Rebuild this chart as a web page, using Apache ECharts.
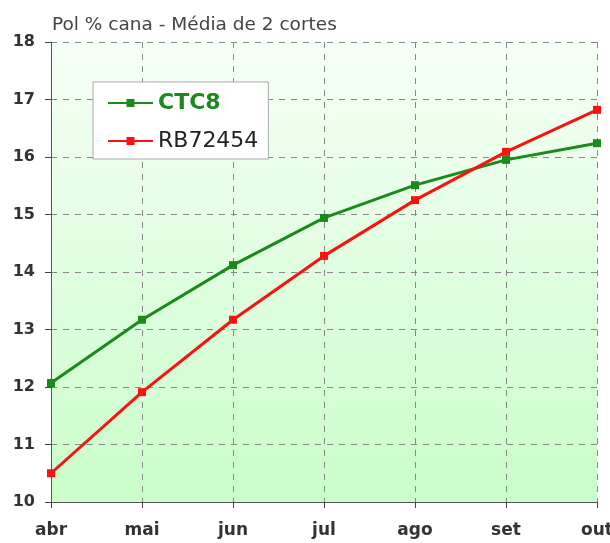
<!DOCTYPE html>
<html>
<head>
<meta charset="utf-8">
<script src="https://cdn.jsdelivr.net/npm/echarts@6/dist/echarts.min.js"></script>
<style>
  html, body { margin: 0; padding: 0; background: #fff; }
  #chart { width: 610px; height: 543px; }
</style>
</head>
<body>
<div id="chart"></div>
<script>
'use strict';

const months = ['abr', 'mai', 'jun', 'jul', 'ago', 'set', 'out'];
const ctc8 = [12.07, 13.17, 14.12, 14.94, 15.51, 15.95, 16.24];
const rb72454 = [10.5, 11.91, 13.17, 14.28, 15.25, 16.09, 16.82];

const green = '#1a8a1a';
const red = '#ff1010';
const font = 'DejaVu Sans';

const chart = echarts.init(document.getElementById('chart'));

chart.setOption({
    animation: false,
    title: {
        text: 'Pol % cana - Média de 2 cortes',
        left: 47,
        top: 11,
        textStyle: { fontFamily: font, fontSize: 18.5, fontWeight: 'normal', color: '#444' }
    },
    legend: {
        left: 93,
        top: 82,
        orient: 'vertical',
        backgroundColor: '#fff',
        borderColor: '#aaa',
        borderWidth: 1,
        borderRadius: 0,
        padding: [10, 10, 7, 14],
        itemGap: 16,
        itemWidth: 45,
        itemHeight: 10,
        textStyle: { fontFamily: font, fontSize: 22 },
        data: [
            { name: 'CTC8', textStyle: { color: green, fontWeight: 'bold' } },
            { name: 'RB72454', textStyle: { color: '#222', fontWeight: 'normal' } }
        ]
    },
    grid: {
        left: 51,
        right: 13,
        top: 42,
        bottom: 41,
        outerBoundsMode: 'none',
        show: true,
        borderWidth: 0,
        backgroundColor: new echarts.graphic.LinearGradient(0, 0, 0, 1, [
            { offset: 0, color: '#f6fff6' },
            { offset: 1, color: '#c9fdc9' }
        ])
    },
    xAxis: {
        type: 'category',
        data: months,
        boundaryGap: false,
        axisLine: { lineStyle: { color: '#555', width: 1 } },
        axisTick: { alignWithLabel: true, length: 6, lineStyle: { color: '#444' } },
        axisLabel: { fontFamily: font, fontSize: 17, fontWeight: 'bold', color: '#333', margin: 20 },
        splitLine: { show: true, lineStyle: { color: '#888', type: [6, 6] } }
    },
    yAxis: {
        type: 'value',
        min: 10,
        max: 18,
        interval: 1,
        axisLine: { show: true, lineStyle: { color: '#555', width: 1 } },
        axisTick: { show: true, length: 6, lineStyle: { color: '#444' } },
        axisLabel: { fontFamily: font, fontSize: 16, fontWeight: 'bold', color: '#333', margin: 16 },
        splitLine: { show: true, lineStyle: { color: '#888', type: [6, 6] } }
    },
    series: [
        {
            name: 'CTC8',
            type: 'line',
            data: ctc8,
            color: green,
            symbol: 'rect',
            symbolSize: 8,
            lineStyle: { width: 3, color: green },
            itemStyle: { color: green }
        },
        {
            name: 'RB72454',
            type: 'line',
            data: rb72454,
            color: red,
            symbol: 'rect',
            symbolSize: 8,
            lineStyle: { width: 3, color: red },
            itemStyle: { color: red }
        }
    ]
});
</script>
</body>
</html>
